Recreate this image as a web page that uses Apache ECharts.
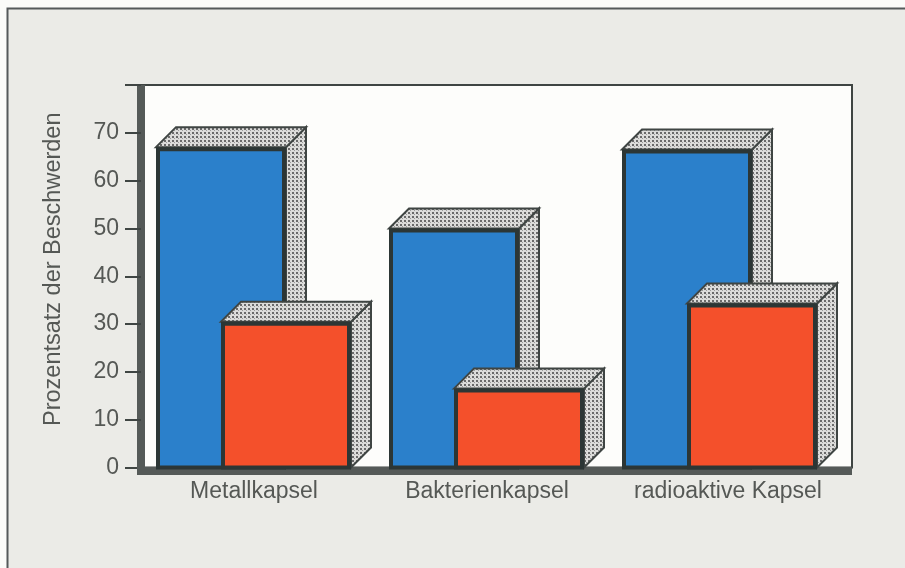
<!DOCTYPE html>
<html>
<head>
<meta charset="utf-8">
<style>
  html, body { margin: 0; padding: 0; background: #fbfbf9; }
  #chart { width: 905px; height: 568px; }
</style>
<script src="https://cdn.jsdelivr.net/npm/echarts@6/dist/echarts.min.js"></script>
</head>
<body>
<div id="chart"></div>
<script>
// Beschwerden nach Kapseltyp
const categories = ['Metallkapsel', 'Bakterienkapsel', 'radioaktive Kapsel'];
const blueValues = [67, 50, 66.5];
const redValues = [30.5, 16.5, 34.3];
const yAxisTitle = 'Prozentsatz der Beschwerden';

const INK = '#3f4543';
const TEXT = '#555855';
const FONT = '"Liberation Sans", Arial, sans-serif';
const LABEL_SIZE = 23;
const TOP = 85, BOTTOM = 100.5;    // plot edges, bottom measured from the page foot
const BAR_W = 130, DEPTH_X = 20, DEPTH_Y = 20;

// Dotted raster for the top and side faces of the blocks
function dotRaster() {
  const c = document.createElement('canvas');
  c.width = c.height = 4;
  const g = c.getContext('2d');
  g.fillStyle = '#dcdcda';
  g.fillRect(0, 0, 4, 4);
  g.fillStyle = '#6a6a6a';
  g.fillRect(0, 0, 2, 2);
  g.fillStyle = '#9a9a9a';
  g.fillRect(2, 2, 1, 1);
  return c;
}
const raster = { image: dotRaster(), repeat: 'repeat' };

// One extruded block: front face plus dotted top and side
function block(color, offset) {
  return function (params, api) {
    const top = api.coord([api.value(0), api.value(1)]);
    const base = api.coord([api.value(0), 0]);
    const l = top[0] + offset, r = l + BAR_W, t = top[1], b = base[1];
    const edge = { stroke: INK, lineWidth: 2, lineJoin: 'miter' };
    return {
      type: 'group',
      children: [
        { type: 'polygon', shape: { points: [[r, b], [r + DEPTH_X, b - DEPTH_Y], [r + DEPTH_X, t - DEPTH_Y], [r, t]] },
          style: Object.assign({ fill: raster }, edge) },
        { type: 'polygon', shape: { points: [[l, t], [l + DEPTH_X, t - DEPTH_Y], [r + DEPTH_X, t - DEPTH_Y], [r, t]] },
          style: Object.assign({ fill: raster }, edge) },
        { type: 'rect', shape: { x: l + 2, y: t + 2, width: BAR_W - 4, height: b - t - 2 },
          style: { fill: color, stroke: '#2c3635', lineWidth: 4 } }
      ]
    };
  };
}

const labelRich = { fontFamily: FONT, fontSize: LABEL_SIZE, color: TEXT };

const chart = echarts.init(document.getElementById('chart'));
chart.setOption({
  animation: false,
  backgroundColor: '#fbfbf9',
  graphic: [
    // panel behind the chart, running off the page on the right and at the foot
    { type: 'rect', z: -10,
      shape: { x: 7.5, y: 8.5, width: 910, height: 575 },
      style: { fill: '#ebebe7', stroke: '#55595a', lineWidth: 2 } },
    // closes the corner where the two heavy axis bars meet
    { type: 'rect', z: 5,
      shape: { x: 137, y: 467, width: 6, height: 8 },
      style: { fill: '#555a58' } }
  ],
  grid: [
    // frame of the plot with the value scale
    { left: 141, right: 53, top: TOP, bottom: BOTTOM, show: true, backgroundColor: '#fdfdfb',
      borderColor: INK, borderWidth: 2 },
    // band layout used by the blocks and their labels
    { left: 137.5, right: 68.5, top: TOP, bottom: BOTTOM }
  ],
  xAxis: [
    { gridIndex: 0, type: 'category', data: categories, offset: 3.5,
      axisLine: { show: true, onZero: false, lineStyle: { color: '#555a58', width: 8, cap: 'butt' } },
      axisTick: { show: false }, axisLabel: { show: false } },
    { gridIndex: 1, type: 'category', data: categories,
      axisLine: { show: false }, axisTick: { show: false },
      axisLabel: {
        interval: 0, hideOverlap: false,
        margin: 13, color: TEXT, fontFamily: FONT, fontSize: LABEL_SIZE,
        formatter: function (v, i) { return '{l' + i + '|' + v + '}'; },
        rich: {
          l0: labelRich,
          l1: labelRich,
          l2: Object.assign({ padding: [0, 0, 0, 16] }, labelRich)
        }
      } }
  ],
  yAxis: [
    { gridIndex: 0, type: 'value', min: 0, max: 80, interval: 10,
      name: yAxisTitle, nameLocation: 'middle', nameGap: 75,
      nameTextStyle: { color: TEXT, fontFamily: FONT, fontSize: 23.5, padding: [0, 0, 0, 14] },
      axisLine: { show: true, lineStyle: { color: '#555a58', width: 8, cap: 'butt' } },
      axisTick: { show: true, length: 16, lineStyle: { color: INK, width: 2 } },
      axisLabel: { margin: 22, color: TEXT, fontFamily: FONT, fontSize: LABEL_SIZE,
        formatter: function (v) { return v === 80 ? '' : v; } },
      splitLine: { show: false } },
    { gridIndex: 1, type: 'value', min: 0, max: 80, interval: 10, show: false }
  ],
  series: [
    { type: 'custom', xAxisIndex: 1, yAxisIndex: 1, z: 3,
      renderItem: block('#2b80cb', -98),
      encode: { x: 0, y: 1 },
      data: blueValues.map(function (v, i) { return [i, v]; }) },
    { type: 'custom', xAxisIndex: 1, yAxisIndex: 1, z: 4,
      renderItem: block('#f4502b', -33),
      encode: { x: 0, y: 1 },
      data: redValues.map(function (v, i) { return [i, v]; }) }
  ]
});
</script>
</body>
</html>
